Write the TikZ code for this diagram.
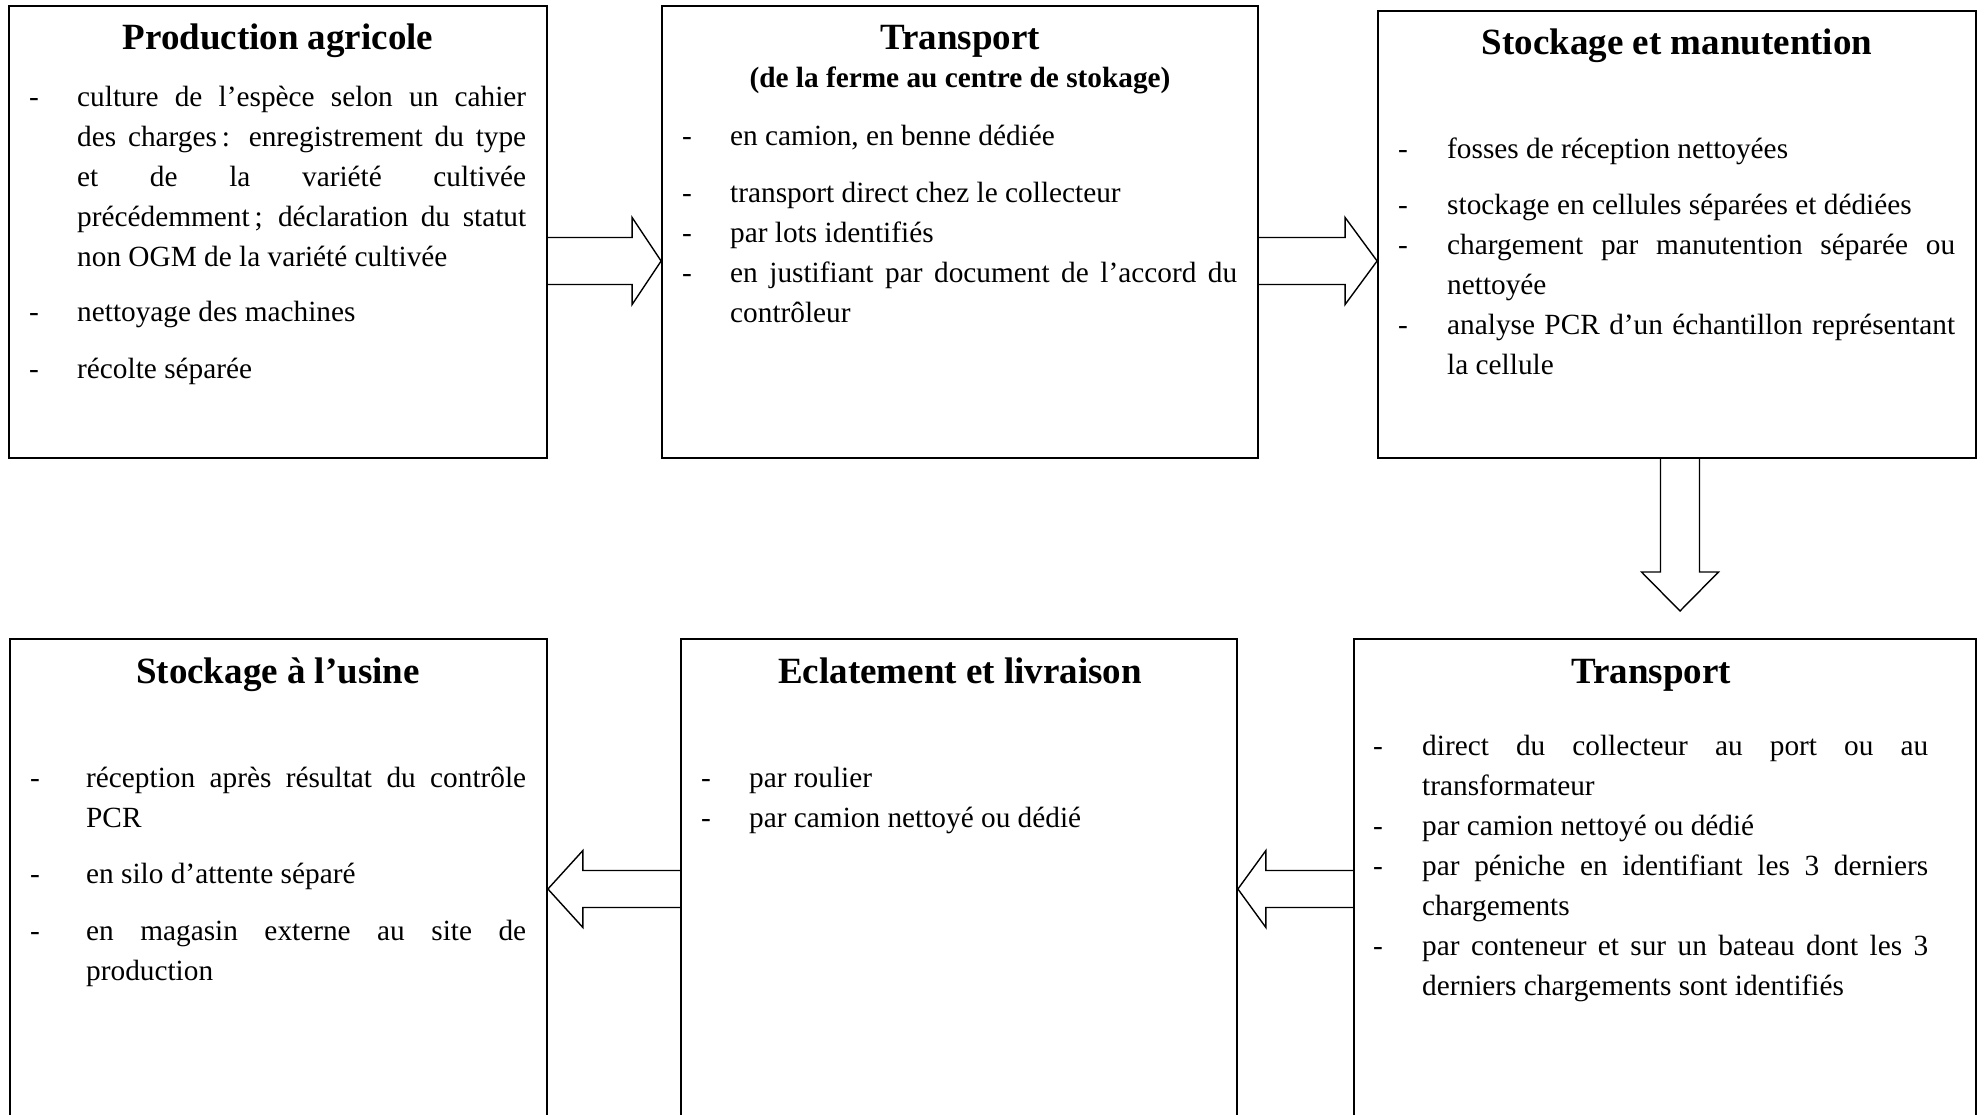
\documentclass[tikz,border=0pt]{standalone}
\usepackage{fontspec}
\setmainfont{Liberation Serif}
\usetikzlibrary{calc}
\hyphenpenalty=10000
\exhyphenpenalty=10000
\tolerance=9999
\emergencystretch=20pt

\tikzset{
  stage/.style={draw, rectangle, line width=1.8pt, inner sep=0pt},
  stagetitle/.style={font=\fontsize{37}{44}\selectfont\bfseries, inner sep=0pt, anchor=base},
  stagesub/.style={font=\fontsize{29.3}{40}\selectfont\bfseries, inner sep=0pt, anchor=base},
  dashtxt/.style={font=\fontsize{29.3}{40}\selectfont, inner sep=0pt, anchor=base},
  itemtxt/.style={font=\fontsize{29.3}{40}\selectfont, inner sep=0pt, anchor=base west, align=justify},
  blockarrow/.style={draw, line width=1.4pt, line join=miter},
}

% one bullet line: name, dash x, text x, baseline y, text width, text
\newcommand\stageitem[6]{%
  \node[dashtxt] (#1d) at (#2,#4) {-};
  \node[itemtxt, text width=#5pt] (#1) at (#3,#4) {#6};}

\begin{document}
\begin{tikzpicture}[x=1pt, y=-1pt]
\useasboundingbox (0,0) rectangle (1984,1114);
\clip (0,0) rectangle (1984,1114);

% ---- stage boxes ----
\node[stage, minimum width=538pt, minimum height=452pt] (b1) at (278,232) {};
\node[stage, minimum width=596pt, minimum height=452pt] (b2) at (960,232) {};
\node[stage, minimum width=598pt, minimum height=447pt] (b3) at (1677,234.5) {};
\node[stage, minimum width=537pt, minimum height=501pt] (b4) at (278.5,889.5) {};
\node[stage, minimum width=556pt, minimum height=501pt] (b5) at (959,889.5) {};
\node[stage, minimum width=622pt, minimum height=501pt] (b6) at (1665,889.5) {};

% ---- titles ----
\node[stagetitle] (t1) at (278,49) {Production agricole};
\node[stagetitle] (t2) at (960,49) {Transport};
\node[stagesub] (t2s) at (960,87) {(de la ferme au centre de stokage)};
\node[stagetitle] (t3) at (1677,54) {Stockage et manutention};
\node[stagetitle] (t4) at (278,683) {Stockage à l’usine};
\node[stagetitle] (t5) at (960,683) {Eclatement et livraison};
\node[stagetitle] (t6) at (1651,683) {Transport};

% ---- production agricole ----
\stageitem{i11}{34}{77}{106}{449}{culture de l’espèce selon un cahier\linebreak des charges\,: enregistrement du type\linebreak et de la variété cultivée\linebreak précédemment\,; déclaration du statut\linebreak non OGM de la variété cultivée}
\stageitem{i12}{34}{77}{321}{449}{nettoyage des machines}
\stageitem{i13}{34}{77}{378}{449}{récolte séparée}

% ---- transport ferme -> stockage ----
\stageitem{i21}{687}{730}{145}{507}{en camion, en benne dédiée}
\stageitem{i22}{687}{730}{202}{507}{transport direct chez le collecteur}
\stageitem{i23}{687}{730}{242}{507}{par lots identifiés}
\stageitem{i24}{687}{730}{282}{507}{en justifiant par document de l’accord du\linebreak contrôleur}

% ---- stockage et manutention ----
\stageitem{i31}{1403}{1447}{158}{508}{fosses de réception nettoyées}
\stageitem{i32}{1403}{1447}{214}{508}{stockage en cellules séparées et dédiées}
\stageitem{i33}{1403}{1447}{254}{508}{chargement par manutention séparée ou\linebreak nettoyée}
\stageitem{i34}{1403}{1447}{334}{508}{analyse PCR d’un échantillon représentant\linebreak la cellule}

% ---- stockage a l'usine ----
\stageitem{i41}{35}{86}{787}{440}{réception après résultat du contrôle\linebreak PCR}
\stageitem{i42}{35}{86}{883}{440}{en silo d’attente séparé}
\stageitem{i43}{35}{86}{940}{440}{en magasin externe au site de\linebreak production}

% ---- eclatement et livraison ----
\stageitem{i51}{706}{749}{787}{470}{par roulier}
\stageitem{i52}{706}{749}{827}{470}{par camion nettoyé ou dédié}

% ---- transport final ----
\stageitem{i61}{1378}{1422}{755}{506}{direct du collecteur au port ou au\linebreak transformateur}
\stageitem{i62}{1378}{1422}{835}{506}{par camion nettoyé ou dédié}
\stageitem{i63}{1378}{1422}{875}{506}{par péniche en identifiant les 3 derniers\linebreak chargements}
\stageitem{i64}{1378}{1422}{955}{506}{par conteneur et sur un bateau dont les 3\linebreak derniers chargements sont identifiés}

% ---- block arrows ----
\coordinate (ytop) at (0,261);
\coordinate (ybot) at (0,889);
\coordinate (xdown) at (1680,0);

% b1 -> b2
\coordinate (s1) at (b1.east |- ytop);
\coordinate (e1) at (b2.west |- ytop);
\draw[blockarrow] ($(s1)+(0,-23.5)$) -- ($(e1)+(-29,-23.5)$) -- ($(e1)+(-29,-43.5)$)
  -- (e1) -- ($(e1)+(-29,43.5)$) -- ($(e1)+(-29,23.5)$) -- ($(s1)+(0,23.5)$);

% b2 -> b3
\coordinate (s2) at (b2.east |- ytop);
\coordinate (e2) at (b3.west |- ytop);
\draw[blockarrow] ($(s2)+(0,-23.5)$) -- ($(e2)+(-32,-23.5)$) -- ($(e2)+(-32,-43.5)$)
  -- (e2) -- ($(e2)+(-32,43.5)$) -- ($(e2)+(-32,23.5)$) -- ($(s2)+(0,23.5)$);

% b3 -> b6 (downwards, free tip)
\coordinate (s3) at (b3.south -| xdown);
\coordinate (e3) at (1680,611);
\draw[blockarrow] ($(s3)+(-19.5,0)$) -- ($(e3)+(-19.5,-39)$) -- ($(e3)+(-38.5,-39)$)
  -- (e3) -- ($(e3)+(38.5,-39)$) -- ($(e3)+(19.5,-39)$) -- ($(s3)+(19.5,0)$);

% b6 -> b5
\coordinate (s4) at (b6.west |- ybot);
\coordinate (e4) at (b5.east |- ybot);
\draw[blockarrow] ($(s4)+(0,-18.5)$) -- ($(e4)+(28,-18.5)$) -- ($(e4)+(28,-38.5)$)
  -- (e4) -- ($(e4)+(28,38.5)$) -- ($(e4)+(28,18.5)$) -- ($(s4)+(0,18.5)$);

% b5 -> b4
\coordinate (s5) at (b5.west |- ybot);
\coordinate (e5) at (b4.east |- ybot);
\draw[blockarrow] ($(s5)+(0,-18.5)$) -- ($(e5)+(35,-18.5)$) -- ($(e5)+(35,-38.5)$)
  -- (e5) -- ($(e5)+(35,38.5)$) -- ($(e5)+(35,18.5)$) -- ($(s5)+(0,18.5)$);

\end{tikzpicture}
\end{document}
